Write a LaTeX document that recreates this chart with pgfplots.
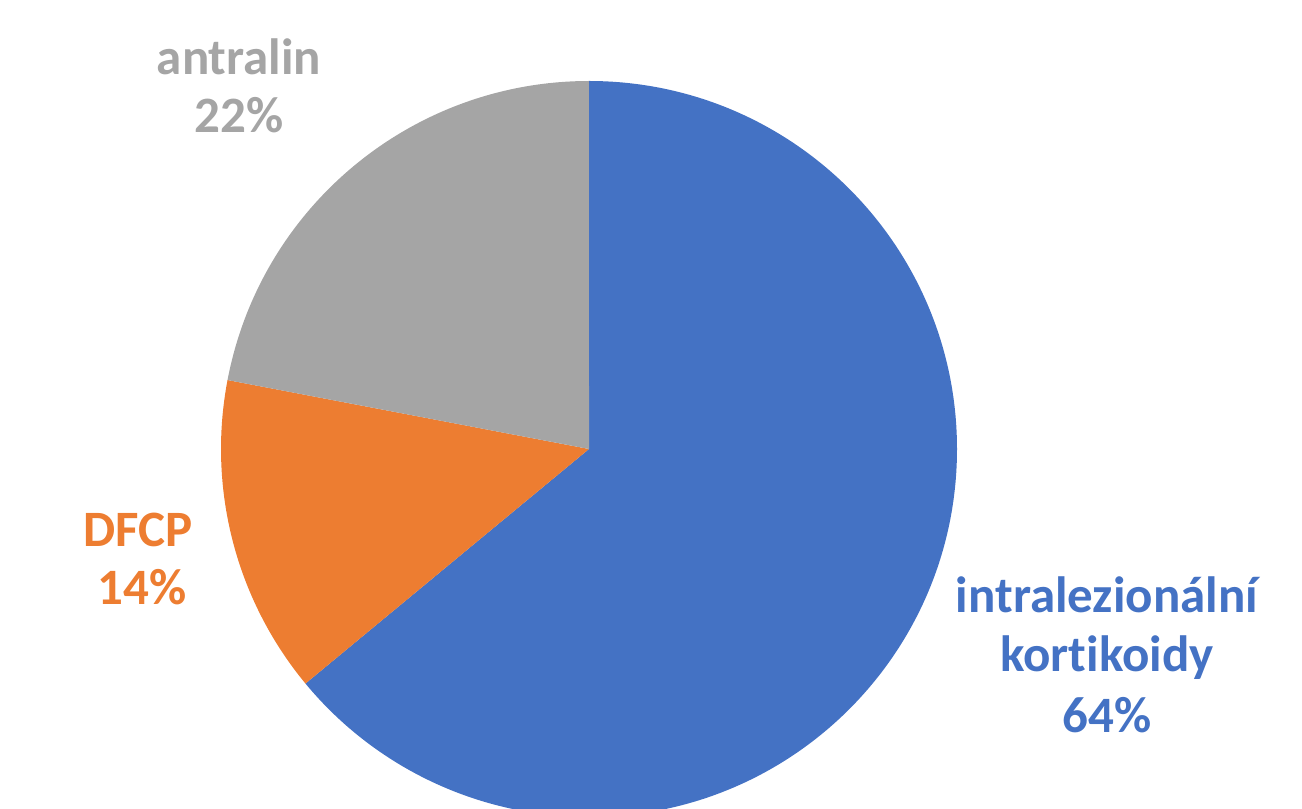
\documentclass[border=0pt]{standalone}
\usepackage{pgfplots}
\usepackage{pgfplotstable}
\pgfplotsset{compat=1.18}
\usepackage{fontspec}
\setmainfont{Carlito}[Ligatures={NoCommon}]
\definecolor{cblue}{HTML}{4472C4}
\definecolor{corange}{HTML}{ED7D31}
\definecolor{cgray}{HTML}{A5A5A5}
\pgfplotstableread{
label value
intralezionalni 64
DFCP 14
antralin 22
}\piedata
\begin{document}
\begin{tikzpicture}
\pgfplotstablegetelem{0}{value}\of\piedata \pgfmathsetmacro{\va}{\pgfplotsretval}%
\pgfplotstablegetelem{1}{value}\of\piedata \pgfmathsetmacro{\vb}{\pgfplotsretval}%
\pgfplotstablegetelem{2}{value}\of\piedata \pgfmathsetmacro{\vc}{\pgfplotsretval}%
\pgfmathsetmacro{\tot}{\va+\vb+\vc}%
\pgfmathsetmacro{\aA}{90}%
\pgfmathsetmacro{\aB}{90-360*(\va/\tot)}%
\pgfmathsetmacro{\aC}{\aB-360*(\vb/\tot)}%
\pgfmathsetmacro{\aD}{\aC-360*(\vc/\tot)}%
\useasboundingbox (0,0) rectangle (651pt,404.5pt);
\clip (0,0) rectangle (651pt,404.5pt);
\begin{axis}[
  hide axis, scale only axis,
  width=368pt, height=368pt,
  xmin=-1, xmax=1, ymin=-1, ymax=1,
  at={(294.5pt,180pt)}, anchor=center,
  clip=false,
]
\fill[cblue] (axis cs:0,0) -- ++(\aA:184pt) arc[start angle=\aA, end angle=\aB, radius=184pt] -- cycle;
\fill[corange] (axis cs:0,0) -- ++(\aB:184pt) arc[start angle=\aB, end angle=\aC, radius=184pt] -- cycle;
\fill[cgray] (axis cs:0,0) -- ++(\aC:184pt) arc[start angle=\aC, end angle=\aD, radius=184pt] -- cycle;
\end{axis}
\begin{scope}[font=\fontsize{25.5pt}{30pt}\selectfont\bfseries]
\node[anchor=base, text=cgray] at (119.5pt,367pt) {antralin};
\node[anchor=base, text=cgray] at (119.5pt,338pt) {22\%};
\node[anchor=base, text=corange] at (69pt,131pt) {DFCP};
\node[anchor=base, text=corange] at (71pt,102pt) {14\%};
\node[anchor=base, text=cblue] at (553.5pt,98pt) {intralezionální};
\node[anchor=base, text=cblue] at (553.5pt,68.5pt) {kortikoidy};
\node[anchor=base, text=cblue] at (553.5pt,38pt) {64\%};
\end{scope}
\end{tikzpicture}
\end{document}
